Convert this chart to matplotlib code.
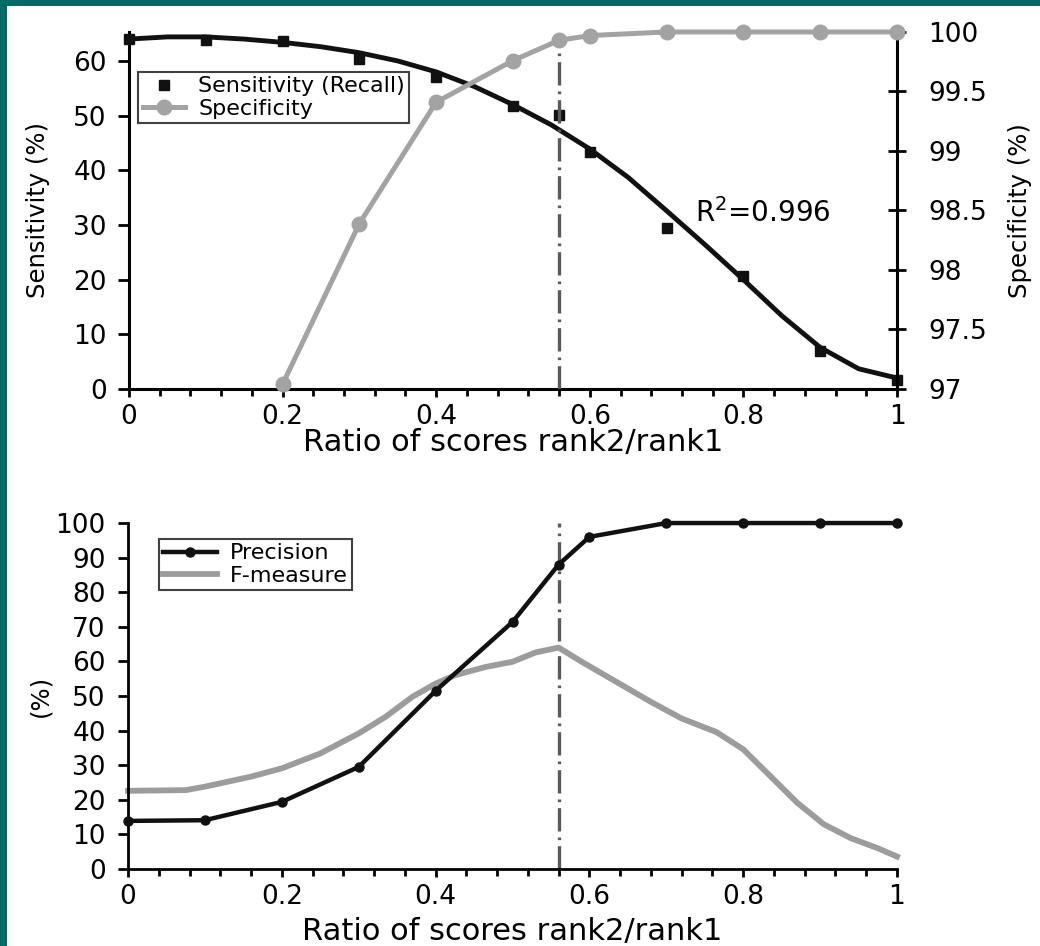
import numpy as np
import matplotlib
matplotlib.use("Agg")
import matplotlib.pyplot as plt
from matplotlib.patches import Rectangle

plt.rcParams["font.family"] = ["DejaVu Sans"]

# Data
ratio = [0.0, 0.1, 0.2, 0.3, 0.4, 0.5, 0.56, 0.6, 0.7, 0.8, 0.9, 1.0]
sensitivity = [64.0, 63.8, 63.6, 60.4, 57.0, 51.7, 50.2, 43.3, 29.4, 20.7, 6.9, 1.7]
precision = [13.9, 14.1, 19.4, 29.5, 51.5, 71.4, 88.0, 96.0, 100, 100, 100, 100]

# fitted sensitivity curve (R^2 = 0.996)
fit_ratio = [0.0, 0.05, 0.1, 0.15, 0.2, 0.25, 0.3, 0.35, 0.4, 0.45, 0.5, 0.55,
             0.6, 0.65, 0.7, 0.75, 0.8, 0.85, 0.9, 0.95, 1.0]
fit_sens = [64.0, 64.4, 64.4, 64.0, 63.4, 62.6, 61.5, 60.0, 58.0, 55.3, 52.0, 48.3,
            43.9, 38.7, 32.6, 26.4, 20.0, 13.4, 7.6, 3.7, 2.0]

spec_ratio = [0.2, 0.3, 0.4, 0.5, 0.56, 0.6, 0.7, 0.8, 0.9, 1.0]
specificity = [97.04, 98.39, 99.41, 99.76, 99.93, 99.97, 100, 100, 100, 100]

f_ratio = [0.0, 0.075, 0.1, 0.16, 0.2, 0.25, 0.3, 0.335, 0.37, 0.4, 0.425, 0.465, 0.5,
           0.53, 0.56, 0.59, 0.635, 0.68, 0.72, 0.765, 0.8, 0.835, 0.87, 0.905, 0.94,
           0.975, 1.0]
f_measure = [22.6, 22.8, 23.8, 26.7, 29.1, 33.4, 39.2, 44.0, 49.8, 53.6, 56.0, 58.4, 59.9,
             62.6, 64.0, 59.9, 54.1, 48.3, 43.5, 39.6, 34.6, 26.9, 19.2, 12.9, 8.9,
             6.0, 3.6]

threshold = 0.56
x_ticks = [0, 0.2, 0.4, 0.6, 0.8, 1.0]
x_ticklabels = ["0", "0.2", "0.4", "0.6", "0.8", "1"]
spec_ticks = [97, 97.5, 98, 98.5, 99, 99.5, 100]
spec_ticklabels = ["97", "97.5", "98", "98.5", "99", "99.5", "100"]

BLACK = "#111111"
GREY = "#a3a3a3"
DASH_GREY = "#5a5a5a"
TEAL = "#006b66"
DASHDOT = (0, (7, 1.8, 0.8, 1.8))

fig = plt.figure(figsize=(10.4, 9.46), dpi=100)
fig.patch.set_facecolor(TEAL)
fig.add_artist(Rectangle((7 / 1040, 0), 1, 1 - 6 / 946, transform=fig.transFigure,
                         facecolor="white", edgecolor="none", zorder=-10))


def style_x(ax):
    ax.set_xlim(0, 1)
    ax.set_xticks(x_ticks)
    ax.set_xticklabels(x_ticklabels)
    ax.set_xticks(np.arange(0, 1.0001, 0.04), minor=True)
    ax.tick_params(axis="x", which="major", direction="out", length=6, width=2, labelsize=19, pad=5)
    ax.tick_params(axis="x", which="minor", direction="out", length=5, width=2)
    ax.set_xlabel("Ratio of scores rank2/rank1", fontsize=22)


# ---- Bovenste grafiek: sensitivity / specificity ----
ax1 = fig.add_axes([0.124, 0.5888, 0.7385, 0.3774])
ax2 = ax1.twinx()

ax1.plot(fit_ratio, fit_sens, color=BLACK, lw=3.5, zorder=3, clip_on=False,
         solid_joinstyle="round")
sens_h, = ax1.plot(ratio, sensitivity, "s", color=BLACK, ms=7, zorder=4, clip_on=False,
                   label="Sensitivity (Recall)")

spec_h, = ax2.plot(spec_ratio, specificity, "-o", color=GREY, lw=3.6, ms=10.5, zorder=3,
                   clip_on=False, label="Specificity")
ax2.vlines(threshold, 97, specificity[spec_ratio.index(threshold)], colors=DASH_GREY, lw=2.4,
           linestyles=DASHDOT, zorder=2)

ax1.set_ylim(0, 65.3)
ax1.set_yticks([0, 10, 20, 30, 40, 50, 60])
ax1.tick_params(axis="y", direction="out", length=8, width=2, labelsize=19, pad=8)
ax2.set_ylim(97, 100)
ax2.set_yticks(spec_ticks)
ax2.set_yticklabels(spec_ticklabels)
ax2.tick_params(axis="y", direction="inout", length=13, width=2, labelsize=19, pad=16)
style_x(ax1)

for ax in (ax1, ax2):
    ax.spines["top"].set_visible(False)
    for s in ax.spines.values():
        s.set_linewidth(2.2)
ax1.spines["right"].set_visible(False)
ax2.spines["left"].set_visible(False)
ax2.spines["bottom"].set_visible(False)

ax1.set_ylabel("Sensitivity (%)", fontsize=17.5)
ax2.set_ylabel("Specificity (%)", fontsize=17.5)
ax1.yaxis.set_label_coords(-0.103, 0.5)
ax2.yaxis.set_label_coords(1.145, 0.5)
ax1.xaxis.set_label_coords(0.5, -0.11)

ax1.text(0.737, 32.2, "R$^2$=0.996", fontsize=20, va="center", ha="left")

leg1 = ax2.legend(handles=[sens_h, spec_h], loc="upper left", bbox_to_anchor=(0.012, 0.888),
                  fontsize=16, frameon=True, fancybox=False, borderaxespad=0,
                  handlelength=1.9, handletextpad=0.6, borderpad=0.2, labelspacing=0.1)
leg1.get_frame().set_edgecolor(BLACK)
leg1.get_frame().set_linewidth(1.5)

# ---- Onderste grafiek: precision / F-measure ----
ax3 = fig.add_axes([0.1231, 0.0814, 0.7394, 0.3657])
ax3.plot(f_ratio, f_measure, color="#9c9c9c", lw=4.2, solid_joinstyle="round",
         label="F-measure", zorder=2, clip_on=False)
ax3.plot(ratio, precision, "-o", color=BLACK, lw=3.2, ms=6.5, label="Precision",
         zorder=3, clip_on=False)
ax3.vlines(threshold, 0, 100, colors=DASH_GREY, lw=2.4, linestyles=DASHDOT, zorder=1)

ax3.set_ylim(0, 100)
ax3.set_yticks(range(0, 101, 10))
ax3.tick_params(axis="y", direction="out", length=7, width=2, labelsize=19, pad=9)
style_x(ax3)
ax3.spines["top"].set_visible(False)
ax3.spines["right"].set_visible(False)
for s in ax3.spines.values():
    s.set_linewidth(2)
ax3.set_ylabel("(%)", fontsize=17.5)
ax3.yaxis.set_label_coords(-0.099, 0.5)
ax3.xaxis.set_label_coords(0.5, -0.14)

h, l = ax3.get_legend_handles_labels()
leg2 = ax3.legend(h[::-1], l[::-1], loc="upper left", bbox_to_anchor=(0.040, 0.954),
                  fontsize=16, frameon=True, fancybox=False, borderaxespad=0,
                  handlelength=2.4, handletextpad=0.6, borderpad=0.2, labelspacing=0.1)
leg2.get_frame().set_edgecolor(BLACK)
leg2.get_frame().set_linewidth(1.5)

plt.savefig("out.png", dpi=100, facecolor=fig.get_facecolor())
